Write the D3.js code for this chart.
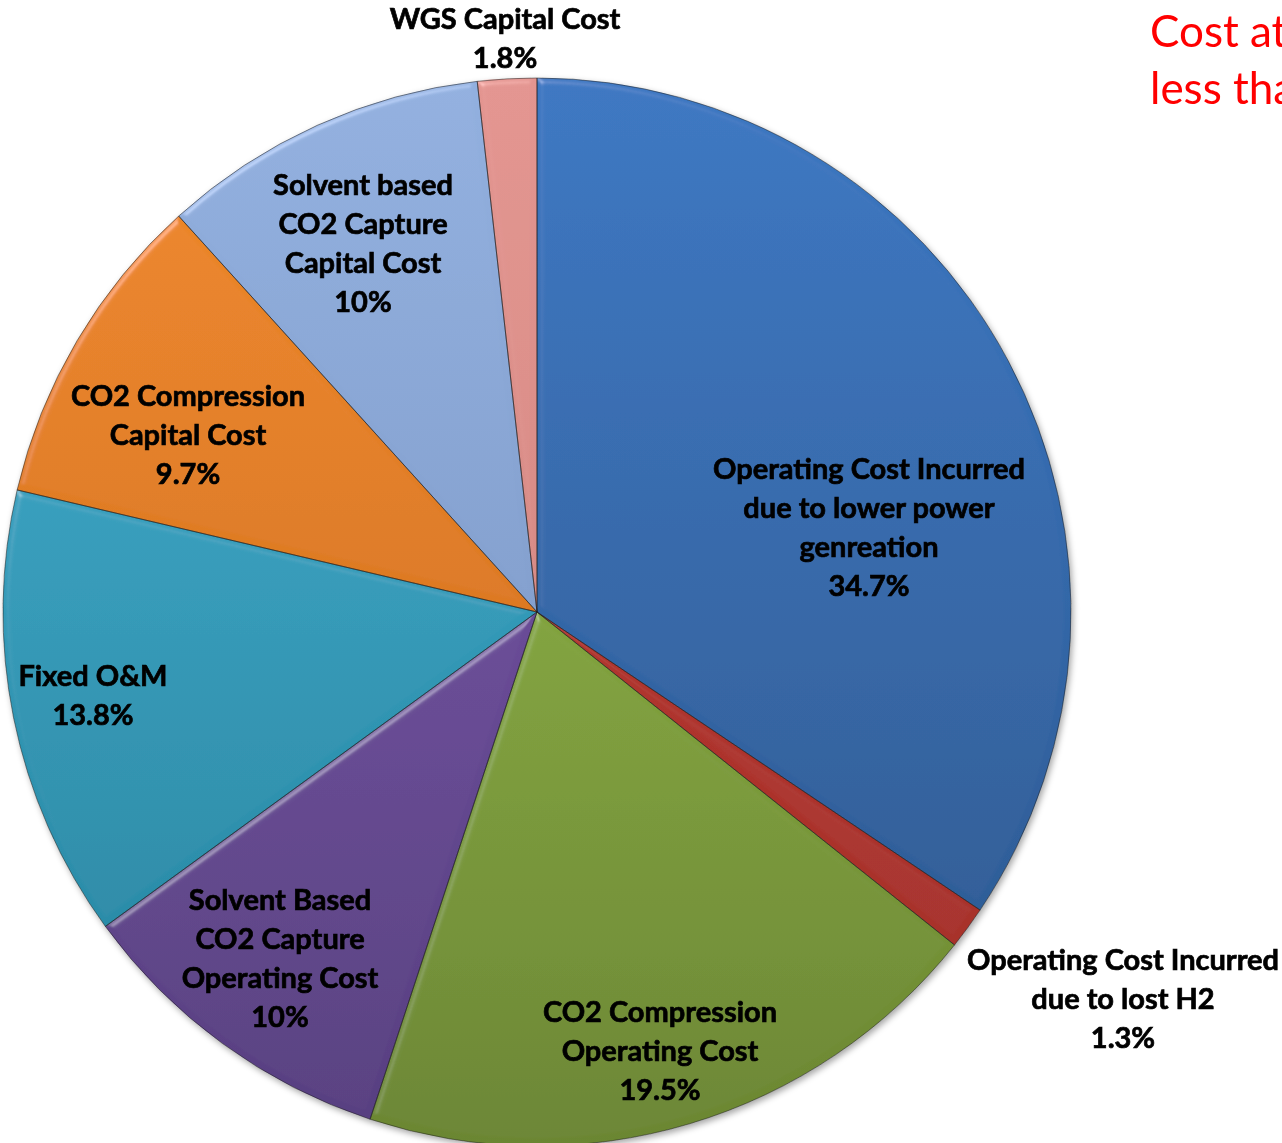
<!DOCTYPE html>
<html>
<head>
<meta charset="utf-8">
<script src="https://cdn.jsdelivr.net/npm/d3@7"></script>
<style>
  html, body { margin: 0; padding: 0; background: #fff; overflow: hidden; }
  svg { display: block; }
</style>
</head>
<body>
<svg id="chart" width="1282" height="1143"></svg>
<script>
// Cost components (clockwise from 12 o'clock)
const categories = [
  "Operating Cost Incurred\ndue to lower power\ngenreation",
  "Operating Cost Incurred\ndue to lost H2",
  "CO2 Compression\nOperating Cost",
  "Solvent Based\nCO2 Capture\nOperating Cost",
  "Fixed O&M",
  "CO2 Compression\nCapital Cost",
  "Solvent based\nCO2 Capture\nCapital Cost",
  "WGS Capital Cost"
];
// Share of the total, in percent
const values = [34.7, 1.3, 19.5, 10, 13.8, 9.7, 10, 1.8];

// Slice colours: [top, bottom] of each vertical gradient
const sliceColors = [
  ["#3b77c2", "#2b568c"],
  ["#c23c34", "#a12e28"],
  ["#98c048", "#6b8632"],
  ["#7c58ae", "#573f80"],
  ["#3cafd0", "#27839e"],
  ["#f08a2a", "#c9681c"],
  ["#92b0df", "#7690bd"],
  ["#e39590", "#cb807b"]
];

// Label block centres, relative to the pie centre
const labelOffsets = [
  [332, -87], [586, 385], [123, 437], [-257, 344],
  [-444, 81], [-349, -179], [-174, -371], [-32, -576]
];

const cx = 537, cy = 612, radius = 534;
const fontFamily = "Lato, 'Open Sans', sans-serif";
const lineHeight = 39;

const svg = d3.select("#chart");
const defs = svg.append("defs");

// Soft bevel on each slice
const bevel = defs.append("filter").attr("id", "bevel")
  .attr("x", "-5%").attr("y", "-5%").attr("width", "110%").attr("height", "110%");
bevel.append("feGaussianBlur").attr("in", "SourceAlpha").attr("stdDeviation", 3).attr("result", "blur");
const spec = bevel.append("feSpecularLighting").attr("in", "blur")
  .attr("surfaceScale", 4).attr("specularConstant", 0.6).attr("specularExponent", 25)
  .attr("lighting-color", "#ffffff").attr("result", "spec");
spec.append("feDistantLight").attr("azimuth", 235).attr("elevation", 30);
bevel.append("feComposite").attr("in", "spec").attr("in2", "SourceAlpha").attr("operator", "in").attr("result", "specIn");
bevel.append("feComposite").attr("in", "SourceGraphic").attr("in2", "specIn")
  .attr("operator", "arithmetic").attr("k1", 0).attr("k2", 1).attr("k3", 0.35).attr("k4", 0);

// Shadow under the whole pie
const shadow = defs.append("filter").attr("id", "pieShadow")
  .attr("x", "-5%").attr("y", "-5%").attr("width", "110%").attr("height", "110%");
shadow.append("feDropShadow").attr("dx", 2).attr("dy", 3).attr("stdDeviation", 3)
  .attr("flood-color", "#000").attr("flood-opacity", 0.35);

sliceColors.forEach((c, i) => {
  const g = defs.append("linearGradient").attr("id", "grad" + i)
    .attr("gradientUnits", "userSpaceOnUse")
    .attr("x1", 0).attr("y1", -radius).attr("x2", 0).attr("y2", radius);
  g.append("stop").attr("offset", "0%").attr("stop-color", c[0]);
  g.append("stop").attr("offset", "100%").attr("stop-color", c[1]);
});

const pie = d3.pie().sort(null).value(d => d);
const arcs = pie(values);
const arc = d3.arc().innerRadius(0).outerRadius(radius);

const root = svg.append("g").attr("transform", `translate(${cx},${cy})`);
const pieG = root.append("g").attr("filter", "url(#pieShadow)");

pieG.selectAll("path.slice")
  .data(arcs)
  .join("path")
  .attr("class", "slice")
  .attr("d", arc)
  .attr("fill", (d, i) => `url(#grad${i})`)
  .attr("filter", "url(#bevel)");

pieG.selectAll("path.edge")
  .data(arcs)
  .join("path")
  .attr("class", "edge")
  .attr("d", arc)
  .attr("fill", "none")
  .attr("stroke", "rgba(30,30,30,0.5)")
  .attr("stroke-width", 1);

// Slice labels: name lines followed by the percentage
const labels = root.append("g")
  .attr("font-family", fontFamily)
  .attr("font-weight", 700)
  .attr("font-size", 29)
  .attr("fill", "#000")
  .attr("stroke", "#000")
  .attr("stroke-width", 0.7)
  .attr("text-anchor", "middle");

arcs.forEach((d, i) => {
  const lines = categories[i].split("\n").concat([`${d.data}%`]);
  const [ox, oy] = labelOffsets[i];
  const top = oy - (lines.length - 1) * lineHeight / 2;
  const t = labels.append("text")
    .attr("x", ox)
    .attr("y", top)
    .attr("dominant-baseline", "central");
  lines.forEach((ln, k) => {
    t.append("tspan").attr("x", ox).attr("y", top + k * lineHeight).text(ln);
  });
});

// Red annotation at top right (runs past the right edge)
const note = svg.append("text")
  .attr("font-family", fontFamily)
  .attr("font-size", 44)
  .attr("fill", "#ff0000")
  .attr("dominant-baseline", "central");
note.append("tspan").attr("x", 1150).attr("y", 30).text("Cost at");
note.append("tspan").attr("x", 1150).attr("y", 87).text("less tha");
</script>
</body>
</html>
